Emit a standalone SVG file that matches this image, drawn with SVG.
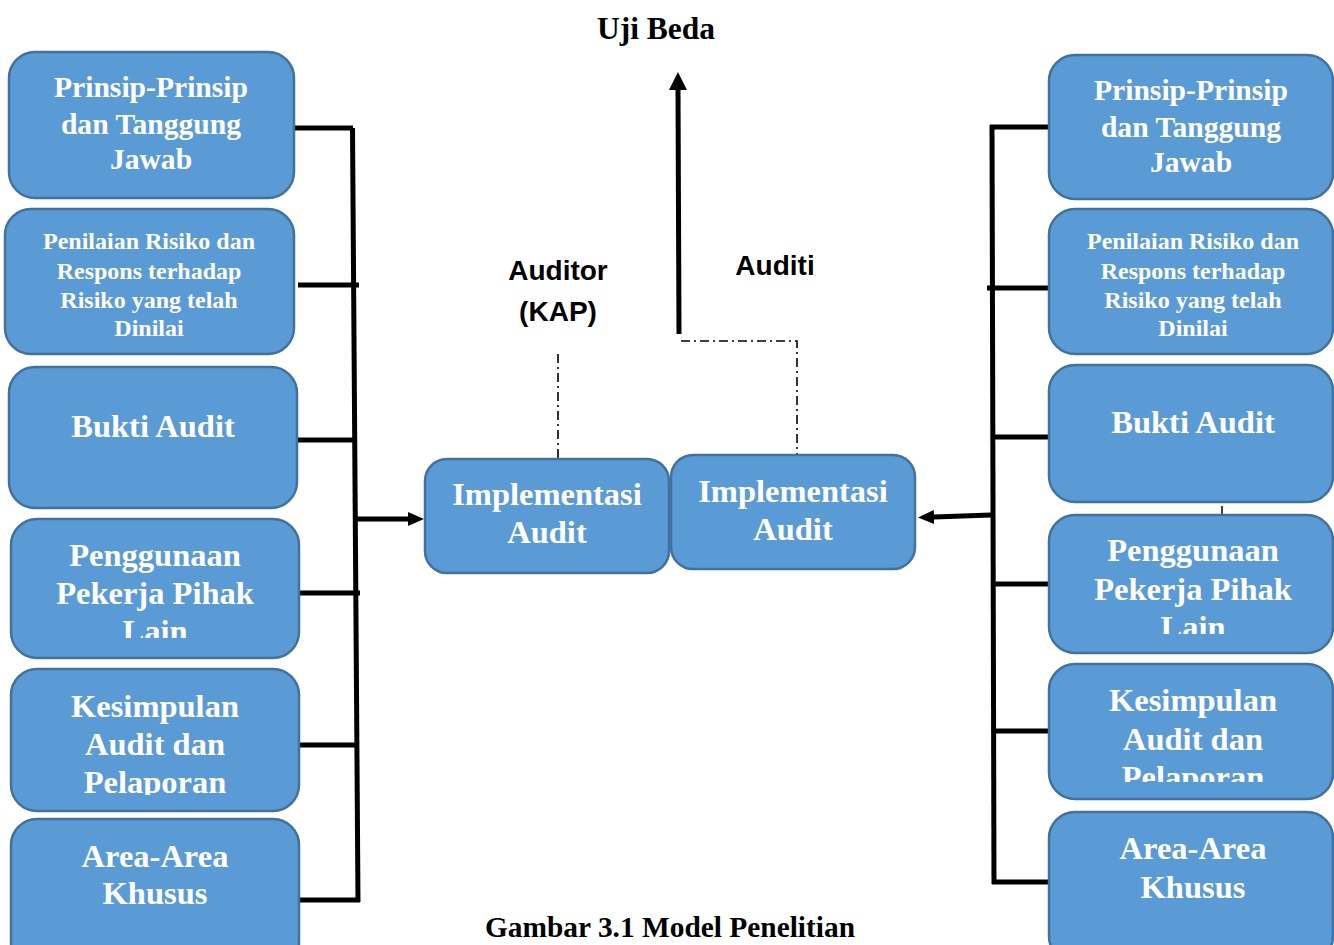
<svg xmlns="http://www.w3.org/2000/svg" width="1334" height="945" viewBox="0 0 1334 945">
<style>
.box{fill:#5B9BD5;stroke:#41719C;stroke-width:2.5}
.t{fill:#fff;font-family:"Liberation Serif","Times New Roman",serif;font-weight:bold;text-anchor:middle}
.big{font-size:32.5px}
.mid{font-size:29.6px}
.sm{font-size:24px}
.ln{stroke:#000;stroke-width:5;fill:none}
.dd{stroke:#000;stroke-width:1.6;fill:none;stroke-dasharray:9 4 2 4}
.lbl{font-family:"Liberation Sans",Arial,sans-serif;font-weight:bold;font-size:28px;fill:#000;text-anchor:middle}
.cap{font-family:"Liberation Serif","Times New Roman",serif;font-weight:bold;fill:#000;text-anchor:middle}
</style>
<defs>
<marker id="ah" markerWidth="16" markerHeight="14" refX="0" refY="7" orient="auto" markerUnits="userSpaceOnUse">
<path d="M0,0 L16,7 L0,14 z" fill="#000"/>
</marker>
<marker id="ahT" markerWidth="18" markerHeight="18" refX="0" refY="9" orient="auto" markerUnits="userSpaceOnUse">
<path d="M0,0 L18,9 L0,18 z" fill="#000"/>
</marker>
<clipPath id="cL4"><rect x="0" y="519" width="310" height="119"/></clipPath>
<clipPath id="cL5"><rect x="0" y="669" width="310" height="126"/></clipPath>
<clipPath id="cR4"><rect x="1040" y="515" width="294" height="119"/></clipPath>
<clipPath id="cR5"><rect x="1040" y="664" width="294" height="118"/></clipPath>
</defs>

<text class="cap" x="656" y="39" font-size="31.5">Uji Beda</text>
<text class="cap" x="670" y="937" font-size="29.4">Gambar 3.1 Model Penelitian</text>
<text class="lbl" x="558" y="280">Auditor</text>
<text class="lbl" x="558" y="321">(KAP)</text>
<text class="lbl" x="775" y="275">Auditi</text>

<g id="connectors">
<path class="ln" d="M352.5,128 L358,902"/>
<path class="ln" d="M294,128 H353"/>
<path class="ln" d="M298,285 H359"/>
<path class="ln" d="M297,440 H357"/>
<path class="ln" d="M300,593 H360"/>
<path class="ln" d="M298,745 H358"/>
<path class="ln" d="M300,900 H360"/>
<path class="ln" d="M357,519 H408" marker-end="url(#ah)"/>
<path class="ln" d="M992,125 L994,884"/>
<path class="ln" d="M990,127 H1049"/>
<path class="ln" d="M987,288 H1049"/>
<path class="ln" d="M994,437 H1052"/>
<path class="ln" d="M995,584 H1052"/>
<path class="ln" d="M993,731 H1052"/>
<path class="ln" d="M992,882 H1052"/>
<path class="ln" d="M991,515 L934,517" marker-end="url(#ah)"/>
<path class="ln" d="M679,334 L678,90" marker-end="url(#ahT)"/>
<path class="dd" d="M558,354 V458"/>
<path class="dd" d="M681,341 H797 V455"/>
<path d="M1222,506 V514" stroke="#000" stroke-width="1.5"/>
</g>

<g id="L1"><rect class="box" x="9" y="52" width="285" height="146" rx="26"/>
<text class="t mid" x="151" y="97">Prinsip-Prinsip</text><text class="t mid" x="151" y="134">dan Tanggung</text><text class="t mid" x="151" y="169">Jawab</text></g>
<g id="L2"><rect class="box" x="5" y="209" width="289" height="145" rx="26"/>
<text class="t sm" x="149" y="249">Penilaian Risiko dan</text><text class="t sm" x="149" y="279">Respons terhadap</text><text class="t sm" x="149" y="308">Risiko yang telah</text><text class="t sm" x="149" y="336">Dinilai</text></g>
<g id="L3"><rect class="box" x="9" y="367" width="288" height="141" rx="26"/>
<text class="t big" x="153" y="437">Bukti Audit</text></g>
<g id="L4"><rect class="box" x="11" y="519" width="288" height="139" rx="26"/>
<g clip-path="url(#cL4)"><text class="t big" x="155" y="566">Penggunaan</text><text class="t big" x="155" y="604">Pekerja Pihak</text><text class="t big" x="155" y="642">Lain</text></g></g>
<g id="L5"><rect class="box" x="11" y="669" width="288" height="142" rx="26"/>
<g clip-path="url(#cL5)"><text class="t big" x="155" y="717">Kesimpulan</text><text class="t big" x="155" y="755">Audit dan</text><text class="t big" x="155" y="793">Pelaporan</text></g></g>
<g id="L6"><rect class="box" x="11" y="819" width="288" height="150" rx="26"/>
<text class="t big" x="155" y="867">Area-Area</text><text class="t big" x="155" y="904">Khusus</text></g>

<g id="C1"><rect class="box" x="425" y="459" width="244" height="114" rx="22"/>
<text class="t big" x="547" y="505">Implementasi</text><text class="t big" x="547" y="543">Audit</text></g>
<g id="C2"><rect class="box" x="671" y="455" width="244" height="114" rx="22"/>
<text class="t big" x="793" y="502">Implementasi</text><text class="t big" x="793" y="540">Audit</text></g>

<g id="R1"><rect class="box" x="1049" y="55" width="284" height="144" rx="26"/>
<text class="t mid" x="1191" y="100">Prinsip-Prinsip</text><text class="t mid" x="1191" y="137">dan Tanggung</text><text class="t mid" x="1191" y="172">Jawab</text></g>
<g id="R2"><rect class="box" x="1049" y="209" width="284" height="145" rx="26"/>
<text class="t sm" x="1193" y="249">Penilaian Risiko dan</text><text class="t sm" x="1193" y="279">Respons terhadap</text><text class="t sm" x="1193" y="308">Risiko yang telah</text><text class="t sm" x="1193" y="336">Dinilai</text></g>
<g id="R3"><rect class="box" x="1049" y="365" width="284" height="137" rx="26"/>
<text class="t big" x="1193" y="433">Bukti Audit</text></g>
<g id="R4"><rect class="box" x="1049" y="515" width="284" height="138" rx="26"/>
<g clip-path="url(#cR4)"><text class="t big" x="1193" y="561">Penggunaan</text><text class="t big" x="1193" y="600">Pekerja Pihak</text><text class="t big" x="1193" y="638">Lain</text></g></g>
<g id="R5"><rect class="box" x="1049" y="664" width="284" height="135" rx="26"/>
<g clip-path="url(#cR5)"><text class="t big" x="1193" y="711">Kesimpulan</text><text class="t big" x="1193" y="750">Audit dan</text><text class="t big" x="1193" y="788">Pelaporan</text></g></g>
<g id="R6"><rect class="box" x="1049" y="812" width="284" height="150" rx="26"/>
<text class="t big" x="1193" y="859">Area-Area</text><text class="t big" x="1193" y="898">Khusus</text></g>
</svg>
